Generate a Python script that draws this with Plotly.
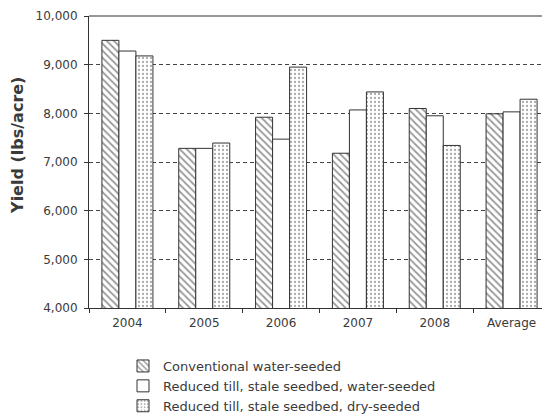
import plotly.graph_objects as go

categories = ["2004", "2005", "2006", "2007", "2008", "Average"]
conventional = [9500, 7280, 7920, 7180, 8100, 7990]
reduced_water = [9280, 7280, 7470, 8070, 7950, 8030]
reduced_dry = [9180, 7390, 8950, 8440, 7340, 8290]
series_names = [
    "Conventional water-seeded",
    "Reduced till, stale seedbed, water-seeded",
    "Reduced till, stale seedbed, dry-seeded",
]
y_ticks = [4000, 5000, 6000, 7000, 8000, 9000, 10000]
y_title = "Yield (lbs/acre)"

FONT = "DejaVu Sans"
TXT = "#3a3a3a"
LINE = "#333333"

fig = go.Figure()
fig.add_trace(go.Bar(
    x=categories, y=conventional, name=series_names[0],
    marker=dict(color="white", line=dict(color=LINE, width=1),
                pattern=dict(shape="\\", fgcolor="#333333", bgcolor="white",
                             size=5, solidity=0.35)),
))
fig.add_trace(go.Bar(
    x=categories, y=reduced_water, name=series_names[1],
    marker=dict(color="white", line=dict(color=LINE, width=1)),
))
fig.add_trace(go.Bar(
    x=categories, y=reduced_dry, name=series_names[2],
    marker=dict(color="white", line=dict(color=LINE, width=1),
                pattern=dict(shape=".", fgcolor="#555555", bgcolor="white",
                             size=4, solidity=0.25)),
))

fig.update_layout(
    width=542, height=410,
    margin=dict(l=81, r=0, t=8, b=110, autoexpand=False),
    paper_bgcolor="white", plot_bgcolor="white",
    barmode="group", bargap=0.336, bargroupgap=0,
    font=dict(family=FONT, size=12, color=TXT),
    showlegend=True,
    legend=dict(
        xref="container", yref="container",
        x=0.2122, xanchor="left", y=0.1634, yanchor="top",
        orientation="v", bgcolor="rgba(0,0,0,0)",
        font=dict(family=FONT, size=13, color=TXT),
        traceorder="normal",
    ),
    xaxis=dict(
        type="category", showline=True, linecolor=LINE, linewidth=1,
        ticks="outside", tickson="boundaries", ticklen=4, tickcolor=LINE,
        showgrid=False, tickfont=dict(family=FONT, size=12, color=TXT),
        ticklabelstandoff=4,
    ),
    yaxis=dict(
        range=[4000, 10000], tickvals=y_ticks, tickformat=",",
        showline=True, linecolor=LINE, linewidth=1,
        ticks="outside", ticklen=4, tickcolor=LINE,
        showgrid=True, gridcolor="#444444", gridwidth=1, griddash="4px,3px",
        zeroline=False, tickfont=dict(family=FONT, size=12, color=TXT),
        ticklabelstandoff=4,
    ),
    shapes=[dict(type="line", xref="paper", yref="paper", x0=0, x1=1, y0=1, y1=1,
                 line=dict(color=LINE, width=1))],
    annotations=[dict(
        text="<b>" + y_title + "</b>", xref="paper", yref="paper",
        x=-0.154, y=0.555, xanchor="center", yanchor="middle",
        textangle=-90, showarrow=False,
        font=dict(family=FONT, size=16, color=TXT),
    )],
)

fig.write_html("out.html")
